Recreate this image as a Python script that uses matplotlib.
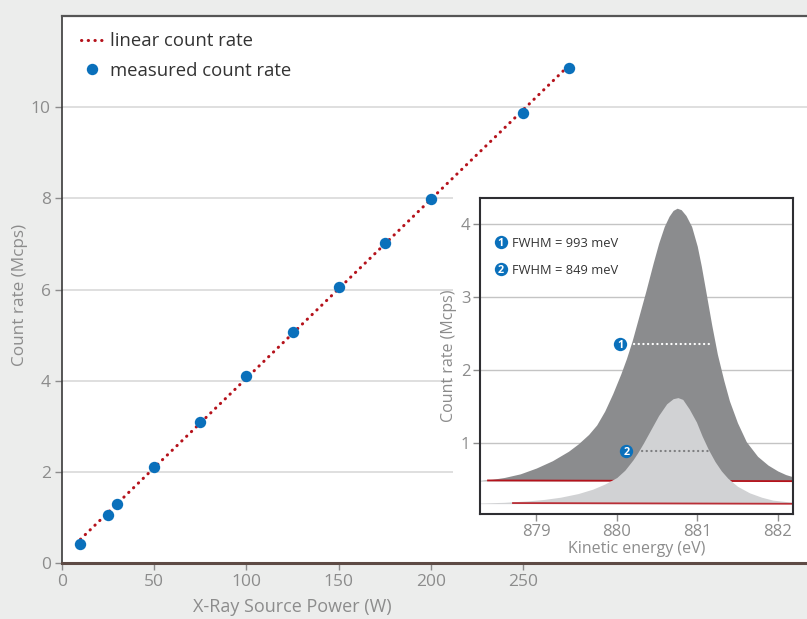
"""Count rate vs. X-ray source power, with an inset of two photoemission peaks."""

import matplotlib
import matplotlib.pyplot as plt
from matplotlib.patches import Rectangle

matplotlib.use("Agg")

# main panel data
power = [10, 25, 30, 50, 75, 100, 125, 150, 175, 200, 250, 275]
measured = [0.41, 1.05, 1.29, 2.11, 3.09, 4.10, 5.07, 6.05, 7.02, 7.98, 9.87, 10.86]
linear_power = [10, 275]
linear_rate = [0.52, 10.92]

# inset: peak 1 (dark)
energy1 = [878.30, 878.45, 878.60, 878.80, 879.00, 879.20, 879.40, 879.52, 879.65,
           879.75, 879.85, 879.95, 880.05, 880.12, 880.19, 880.27, 880.36, 880.45,
           880.52, 880.59, 880.65, 880.70, 880.75, 880.80, 880.86, 880.93, 881.00,
           881.05, 881.10, 881.18, 881.25, 881.33, 881.40, 881.50, 881.61, 881.75,
           881.88, 882.00, 882.10, 882.19]
rate1 = [0.49, 0.505, 0.53, 0.58, 0.66, 0.76, 0.89, 0.99, 1.12,
         1.25, 1.44, 1.68, 1.95, 2.16, 2.40, 2.72, 3.08, 3.46,
         3.74, 3.97, 4.11, 4.19, 4.22, 4.20, 4.12, 3.97, 3.70,
         3.43, 3.12, 2.62, 2.22, 1.86, 1.58, 1.28, 1.02, 0.82,
         0.70, 0.62, 0.57, 0.54]
# inset: peak 2 (light)
energy2 = [878.30, 878.60, 878.90, 879.10, 879.30, 879.52, 879.70, 879.85, 880.00,
           880.10, 880.20, 880.26, 880.33, 880.42, 880.52, 880.62, 880.70, 880.76,
           880.82, 880.90, 880.99, 881.06, 881.14, 881.22, 881.30, 881.38, 881.50,
           881.65, 881.80, 881.94, 882.19]
rate2 = [0.18, 0.19, 0.21, 0.23, 0.26, 0.31, 0.37, 0.44, 0.53,
         0.63, 0.77, 0.87, 1.00, 1.18, 1.38, 1.54, 1.61, 1.625,
         1.60, 1.47, 1.29, 1.10, 0.91, 0.75, 0.62, 0.52, 0.41,
         0.32, 0.26, 0.22, 0.19]
base1_energy = [878.40, 882.19]
base1_rate = [0.49, 0.48]
base2_energy = [878.71, 882.19]
base2_rate = [0.18, 0.17]
fill_floor1 = 0.485
fill_floor2 = 0.172

# FWHM markers
fwhm_labels = ["1", "2"]
fwhm_texts = ["FWHM = 993 meV", "FWHM = 849 meV"]
fwhm_left = [880.22, 880.31]
fwhm_right = [881.20, 881.15]
fwhm_level = [2.36, 0.90]
fwhm_badge_x = [880.04, 880.12]

BG = "#ecedec"
BLUE = "#0a70bb"
RED = "#b5121b"
DARK = "#8b8c8e"
LIGHT = "#d1d2d4"
TICK = "#8c8c8c"
TEXT = "#333333"

plt.rcParams["font.family"] = ["Open Sans", "DejaVu Sans"]

fig = plt.figure(figsize=(8.07, 6.19), dpi=100, facecolor=BG)

# ---- main axes
ax = fig.add_axes([62 / 807, 56 / 619, 745 / 807, 547 / 619])
ax.set_facecolor("white")
ax.set_xlim(0, 404)
ax.set_ylim(0, 12)
ax.set_xticks([0, 50, 100, 150, 200, 250])
ax.set_yticks([0, 2, 4, 6, 8, 10])
for yv in [2, 4, 6, 8, 10]:
    ax.axhline(yv, color="#dcdcdc", lw=1.3, zorder=0.5)

ax.plot(linear_power, linear_rate, color=RED, lw=2.2, dashes=(0.1, 2.1),
        dash_capstyle="round", label="linear count rate", zorder=2)
ax.plot(power, measured, "o", color=BLUE, ms=8.2, mec="none",
        label="measured count rate", zorder=3)

ax.spines["right"].set_visible(False)
ax.spines["left"].set_color("#3a3a3a")
ax.spines["left"].set_linewidth(1.2)
ax.spines["top"].set_color("#555555")
ax.spines["top"].set_linewidth(1.6)
ax.spines["bottom"].set_color("#5e4b45")
ax.spines["bottom"].set_linewidth(2.2)
ax.spines["bottom"].set_zorder(5)
ax.tick_params(direction="out", length=5, width=1, color=TICK,
               labelcolor=TICK, labelsize=12.5, pad=3)
ax.set_xlabel("X-Ray Source Power (W)", color=TICK, fontsize=13)
ax.xaxis.set_label_coords(0.309, -0.064)
ax.set_ylabel("Count rate (Mcps)", color=TICK, fontsize=12.3)
ax.yaxis.set_label_coords(-0.046, 0.49)

leg = ax.legend(loc="upper left", bbox_to_anchor=(0.008, 0.994), frameon=False,
                fontsize=13.3, handlelength=1.2, handletextpad=0.4,
                labelspacing=0.62, borderaxespad=0.3)
for txt in leg.get_texts():
    txt.set_color(TEXT)

# white panel behind inset
fig.add_artist(Rectangle((453 / 807, 59 / 619), 354 / 807, 375 / 619,
                         transform=fig.transFigure, facecolor="white",
                         edgecolor="none", zorder=1))

# ---- inset axes
ins = fig.add_axes([480 / 807, 105 / 619, 313 / 807, 316 / 619], zorder=2)
ins.set_facecolor("white")
ins.set_xlim(878.30, 882.19)
ins.set_ylim(0.03, 4.36)
ins.set_xticks([879, 880, 881, 882])
ins.set_yticks([1, 2, 3, 4])
for yv in [1, 2, 3, 4]:
    ins.axhline(yv, color="#c4c4c4", lw=1.0, zorder=0.5)

ins.fill_between(energy1, rate1, fill_floor1, color=DARK, lw=0, zorder=1)
ins.plot(base1_energy, base1_rate, color=RED, lw=1.3, zorder=1.5)
ins.fill_between(energy2, rate2, fill_floor2, color=LIGHT, lw=0, zorder=2)
ins.plot(base2_energy, base2_rate, color=RED, lw=1.3, alpha=0.85, zorder=2.5)

line_colors = ["white", "#7d7e80"]
for i in range(2):
    ins.plot([fwhm_left[i], fwhm_right[i]], [fwhm_level[i]] * 2,
             color=line_colors[i], lw=1.6, dashes=(0.1, 2.0),
             dash_capstyle="round", zorder=3)
    ins.plot(fwhm_badge_x[i], fwhm_level[i], "o", color=BLUE, ms=9.6,
             mec="none", zorder=4)
    ins.text(fwhm_badge_x[i], fwhm_level[i], fwhm_labels[i], color="white",
             fontsize=7.8, fontweight="bold", ha="center", va="center_baseline",
             zorder=5)
    # legend rows
    ly = 0.86 - i * 0.084
    ins.plot(0.066, ly, "o", color=BLUE, ms=9.6, mec="none",
             transform=ins.transAxes, zorder=4, clip_on=False)
    ins.text(0.066, ly, fwhm_labels[i], color="white", fontsize=7.8,
             fontweight="bold", ha="center", va="center_baseline",
             transform=ins.transAxes, zorder=5)
    ins.text(0.103, ly, fwhm_texts[i], color=TEXT, fontsize=9.3,
             ha="left", va="center_baseline", transform=ins.transAxes)

for side in ["left", "right", "top", "bottom"]:
    ins.spines[side].set_color("#2e2e32")
    ins.spines[side].set_linewidth(1.5)
    ins.spines[side].set_zorder(6)
ins.tick_params(direction="out", length=5, width=1, color=TICK,
                labelcolor=TICK, labelsize=12, pad=2)
ins.set_xlabel("Kinetic energy (eV)", color=TICK, fontsize=11.5)
ins.xaxis.set_label_coords(0.5, -0.085)
ins.set_ylabel("Count rate (Mcps)", color=TICK, fontsize=11.5)
ins.yaxis.set_label_coords(-0.075, 0.5)

fig.savefig("out.png", dpi=100, facecolor=BG)
plt.close(fig)
